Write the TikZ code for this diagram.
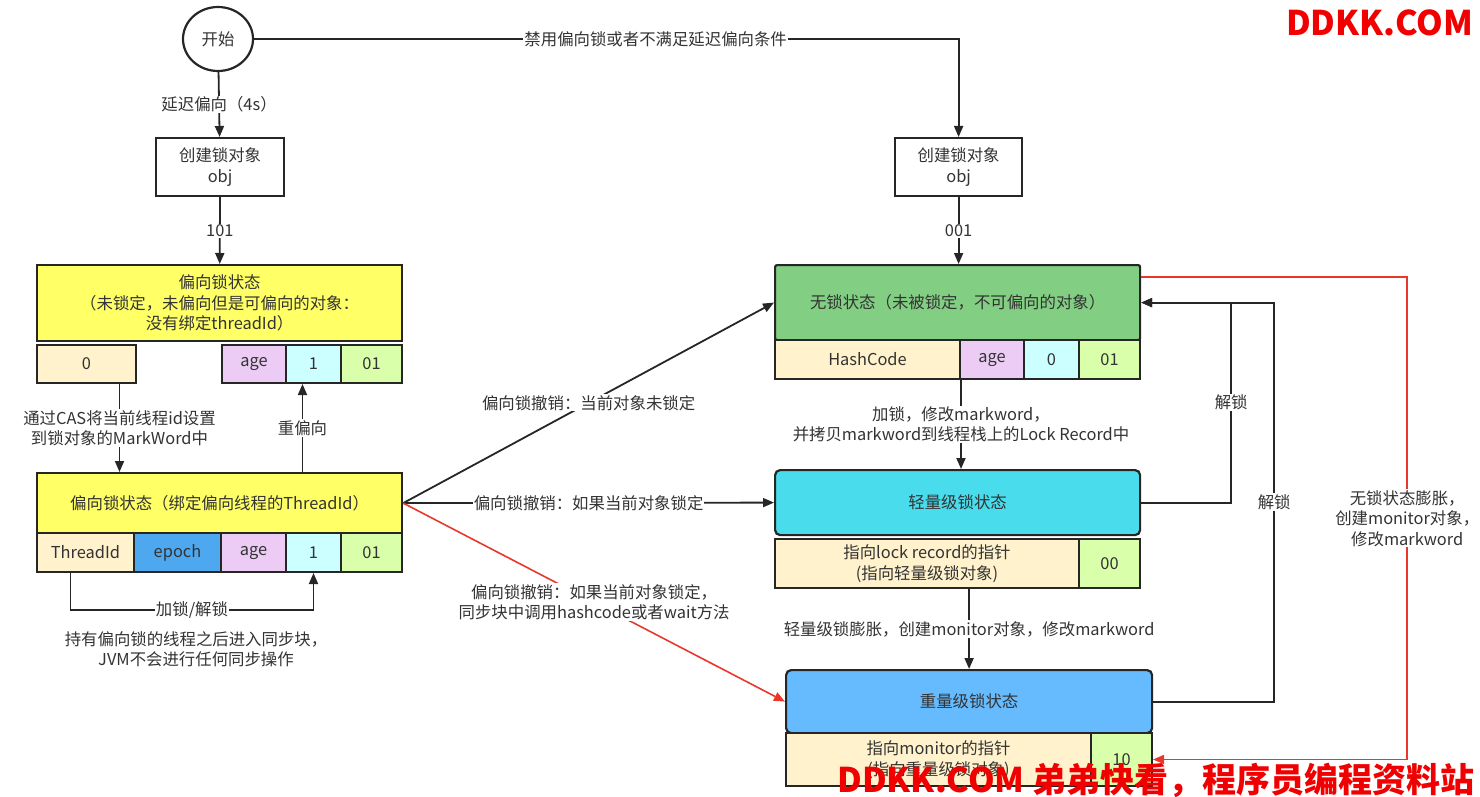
\documentclass[tikz,border=0pt]{standalone}
\usepackage{fontspec}
\setmainfont{Noto Sans CJK SC}
\usepackage{tikz}
\usetikzlibrary{arrows.meta, positioning, calc, shapes.geometric}
\definecolor{ink}{RGB}{51,51,51}
\definecolor{biasyellow}{RGB}{255,255,102}
\definecolor{cream}{RGB}{255,242,204}
\definecolor{agepink}{RGB}{236,204,245}
\definecolor{bitcyan}{RGB}{204,255,255}
\definecolor{taggreen}{RGB}{217,255,170}
\definecolor{epochblue}{RGB}{77,168,240}
\definecolor{freegreen}{RGB}{130,206,130}
\definecolor{lightcyan}{RGB}{72,220,236}
\definecolor{heavyblue}{RGB}{102,187,255}
\definecolor{inflred}{RGB}{232,56,44}
\definecolor{wmred}{RGB}{240,0,0}
\tikzset{
  box/.style={draw=black!85, line width=2.2pt, inner sep=0pt, anchor=north west, align=center},
  cell/.style={box, line width=2pt},
  arr/.style={draw=black!85, line width=1.8pt, -{Triangle[length=11pt,width=9pt]}},
  redarr/.style={draw=inflred, line width=1.6pt, -{Triangle[length=11pt,width=9pt]}},
  lbl/.style={fill=white, inner sep=1pt, align=center},
  wmark/.style={font=\fontsize{34}{40}\selectfont\bfseries, text=wmred, anchor=east}
}

\begin{document}
\begin{tikzpicture}[x=1pt, y=-1pt, font=\fontsize{16.4}{20.5}\selectfont, every node/.style={text=ink}]
    \useasboundingbox (0,0) rectangle (1480,797);

    % start and object creation
    \node[draw=black!85, line width=2.2pt, ellipse, minimum width=70pt, minimum height=64pt, inner sep=0pt] (start) at (218,39) {开始};
    \node[box, minimum width=128pt, minimum height=58pt] (objL) at (155,137) {创建锁对象\\obj};
    \node[box, minimum width=127pt, minimum height=58pt] (objR) at (894,137) {创建锁对象\\obj};

    % biased, not yet bound
    \node[box, fill=biasyellow, minimum width=365pt, minimum height=76pt] (biasA) at (36,264) {偏向锁状态\\（未锁定，未偏向但是可偏向的对象：\\没有绑定threadId）};
    \node[cell, fill=cream, minimum width=99pt, minimum height=38pt] (c0) at (36,344) {0};
    \node[cell, fill=agepink, minimum width=64pt, minimum height=38pt] (aage) at (221,344) {age};
    \node[cell, fill=bitcyan, minimum width=55pt, minimum height=38pt] (a1) at (285,344) {1};
    \node[cell, fill=taggreen, minimum width=61pt, minimum height=38pt] (a01) at (340,344) {01};

    % biased, bound to thread
    \node[box, fill=biasyellow, minimum width=365pt, minimum height=60pt] (biasB) at (36,472) {偏向锁状态（绑定偏向线程的ThreadId）};
    \node[cell, fill=cream, minimum width=97pt, minimum height=39pt] (tid) at (36,532) {ThreadId};
    \node[cell, fill=epochblue, minimum width=87pt, minimum height=39pt] (epoch) at (133,532) {epoch};
    \node[cell, fill=agepink, minimum width=65pt, minimum height=39pt] (bage) at (220,532) {age};
    \node[cell, fill=bitcyan, minimum width=55pt, minimum height=39pt] (b1) at (285,532) {1};
    \node[cell, fill=taggreen, minimum width=61pt, minimum height=39pt] (b01) at (340,532) {01};

    % unlocked
    \node[box, fill=freegreen, rounded corners=2pt, minimum width=365pt, minimum height=75pt] (free) at (774,264) {无锁状态（未被锁定，不可偏向的对象）};
    \node[cell, fill=cream, minimum width=185pt, minimum height=39pt] (hash) at (774,339) {HashCode};
    \node[cell, fill=agepink, minimum width=64pt, minimum height=39pt] (fage) at (959,339) {age};
    \node[cell, fill=bitcyan, minimum width=55pt, minimum height=39pt] (f0) at (1023,339) {0};
    \node[cell, fill=taggreen, minimum width=61pt, minimum height=39pt] (f01) at (1078,339) {01};

    % lightweight
    \node[box, fill=lightcyan, rounded corners=5pt, minimum width=365pt, minimum height=65pt] (light) at (774,469) {轻量级锁状态};
    \node[cell, fill=cream, minimum width=304pt, minimum height=49pt] (lrec) at (774,538) {指向lock record的指针\\(指向轻量级锁对象)};
    \node[cell, fill=taggreen, minimum width=61pt, minimum height=49pt] (l00) at (1078,538) {00};

    % heavyweight
    \node[box, fill=heavyblue, rounded corners=5pt, minimum width=366pt, minimum height=63pt] (heavy) at (785,669) {重量级锁状态};
    \node[cell, fill=cream, minimum width=305pt, minimum height=53pt] (mon) at (785,732) {指向monitor的指针\\(指向重量级锁对象)};
    \node[cell, fill=taggreen, minimum width=61pt, minimum height=53pt] (m10) at (1090,732) {10};

    % connectors
    \draw[arr] (start) -- (objL) node[lbl, midway] {延迟偏向（4s）};
    \draw[arr] (start.east) -| (objR.north) node[lbl, pos=0.285] {禁用偏向锁或者不满足延迟偏向条件};
    \draw[arr] (objL) -- (biasA) node[lbl, midway] {101};
    \draw[arr] (objR.south) -- (objR.south |- free.north) node[lbl, midway] {001};
    \draw[arr] ([xshift=33pt]c0.south) -- ([xshift=33pt]c0.south |- biasB.north) node[lbl, midway] {通过CAS将当前线程id设置\\到锁对象的MarkWord中};
    \draw[arr] ([xshift=-11pt]a1.south |- biasB.north) -- ([xshift=-11pt]a1.south) node[lbl, midway] {重偏向};
    \draw[arr] ([xshift=-15pt]tid.south) -- ++(0,37) -| (b1.south) node[lbl, pos=0.25] {加锁/解锁};
    \node[align=center] (hold) at (196,649) {持有偏向锁的线程之后进入同步块，\\JVM不会进行任何同步操作};

    \draw[arr] (biasB.east) -- (free.west) node[lbl, midway] {偏向锁撤销：当前对象未锁定};
    \draw[arr] (biasB.east) -- (light.west) node[lbl, midway] {偏向锁撤销：如果当前对象锁定};
    \draw[redarr] (biasB.east) -- (heavy.west) node[lbl, midway] {偏向锁撤销：如果当前对象锁定，\\同步块中调用hashcode或者wait方法};

    \draw[arr] (hash.south east) -- (hash.south east |- light.north) node[lbl, midway] {加锁，修改markword，\\并拷贝markword到线程栈上的Lock Record中};
    \draw[arr] (lrec.south -| heavy.north) -- (heavy.north) node[lbl, midway] {轻量级锁膨胀，创建monitor对象，修改markword};
    \draw[arr] (light.east) -- ++(90,0) |- (free.east) node[lbl, pos=0.25] {解锁};
    \draw[arr] (heavy.east) -- ++(121,0) |- (free.east) node[lbl, pos=0.25] {解锁};
    \draw[redarr] ([yshift=-13pt]free.north east) -- ++(266,0) |- (m10.east) node[lbl, pos=0.25] {无锁状态膨胀，\\创建monitor对象，\\修改markword};

    % watermark
    \node[wmark] (wmtop) at (1477,23) {DDKK.COM};
    \node[wmark] (wmbot) at (1478,780) {DDKK.COM 弟弟快看，程序员编程资料站};
  \end{tikzpicture}
\end{document}
